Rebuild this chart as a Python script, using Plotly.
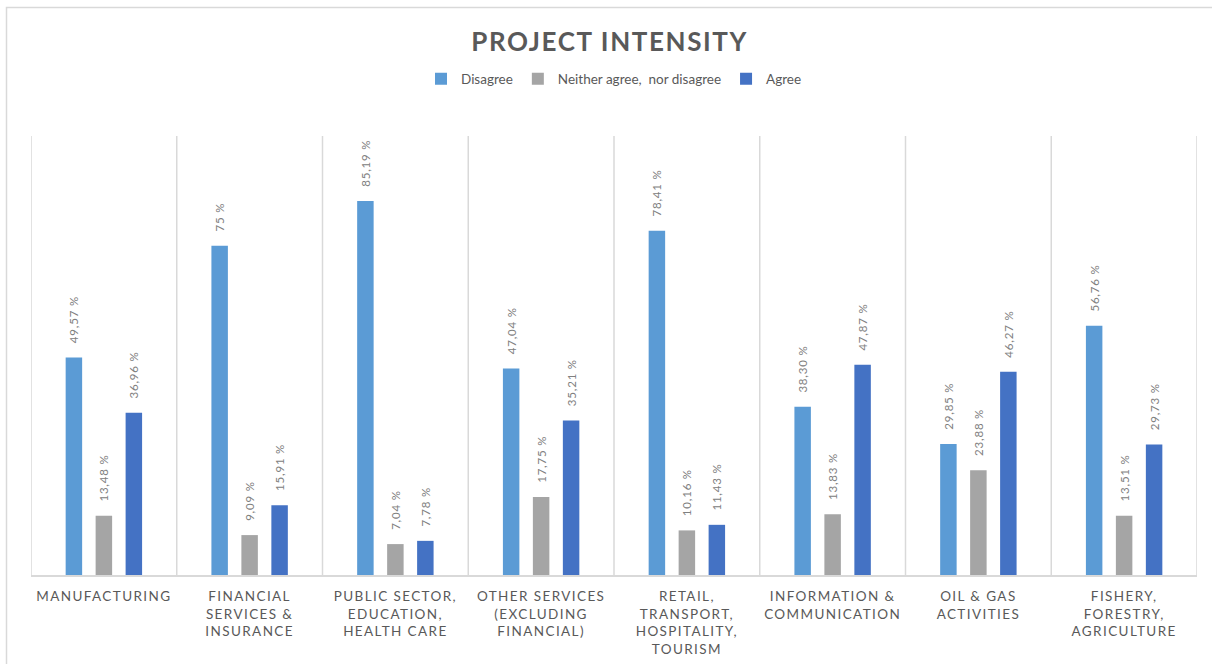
import plotly.graph_objects as go

# Sector categories (one line per <br>)
categories = [
    "MANUFACTURING",
    "FINANCIAL<br>SERVICES &<br>INSURANCE",
    "PUBLIC SECTOR,<br>EDUCATION,<br>HEALTH CARE",
    "OTHER SERVICES<br>(EXCLUDING<br>FINANCIAL)",
    "RETAIL,<br>TRANSPORT,<br>HOSPITALITY,<br>TOURISM",
    "INFORMATION &<br>COMMUNICATION",
    "OIL & GAS<br>ACTIVITIES",
    "FISHERY,<br>FORESTRY,<br>AGRICULTURE",
]

# Share of respondents (%) per answer
disagree = [49.57, 75.00, 85.19, 47.04, 78.41, 38.30, 29.85, 56.76]
neither = [13.48, 9.09, 7.04, 17.75, 10.16, 13.83, 23.88, 13.51]
agree = [36.96, 15.91, 7.78, 35.21, 11.43, 47.87, 46.27, 29.73]

series_names = ["Disagree", "Neither agree,  nor disagree", "Agree"]
series_colors = ["#5B9BD5", "#A5A5A5", "#4472C4"]

FONT = "Lato, 'Open Sans', sans-serif"
GRID = "#D9D9D9"
TEXT = "#595959"


def spaced(text, px):
    """Wrap every line of a label in a letter-spaced span."""
    lines = text.split("<br>")
    return "<br>".join(
        f"<span style='letter-spacing:{px}px'>{ln}</span>" for ln in lines
    )


def pct_label(v):
    num = f"{v:.0f}" if float(v).is_integer() else f"{v:.2f}".replace(".", ",")
    return spaced("\u00a0\u00a0\u00a0" + num + " %", 0.8)


tick_text = [spaced(c, 1.4) for c in categories]
x_idx = list(range(len(categories)))

fig = go.Figure()
for name, vals, col in zip(series_names, [disagree, neither, agree], series_colors):
    fig.add_trace(
        go.Bar(
            name=name,
            x=x_idx,
            y=vals,
            marker=dict(color=col, line=dict(width=0)),
            text=[pct_label(v) for v in vals],
            textposition="outside",
            textangle=-90,
            constraintext="none",
            cliponaxis=False,
            textfont=dict(family=FONT, size=11.5, color="#808080"),
            hoverinfo="skip",
        )
    )

shapes = []
# outer chart frame
shapes.append(
    dict(
        type="rect", xref="paper", yref="paper",
        x0=(6.5 - 31) / 1166, x1=1.3, y0=-1.0, y1=(575 - 7.5) / 439,
        line=dict(color=GRID, width=1.5), fillcolor="rgba(0,0,0,0)", layer="below",
    )
)
# vertical separators between categories
for i in range(len(categories) + 1):
    shapes.append(
        dict(
            type="line", xref="x", yref="paper",
            x0=i - 0.5, x1=i - 0.5, y0=0, y1=1,
            line=dict(color=GRID, width=1.5), layer="below",
        )
    )

fig.update_layout(
    width=1212,
    height=664,
    margin=dict(l=31, r=15, t=136, b=89, autoexpand=False),
    paper_bgcolor="white",
    plot_bgcolor="white",
    barmode="group",
    bargap=0.383,
    bargroupgap=0.45,
    font=dict(family=FONT, color=TEXT),
    title=dict(
        text=spaced("<b>PROJECT INTENSITY</b>", 1.6),
        x=0.503, xanchor="center",
        y=1 - 42 / 664, yanchor="middle", yref="container",
        font=dict(family=FONT, size=26, color=TEXT),
    ),
    legend=dict(
        orientation="h",
        x=0.5, xanchor="center",
        y=(575 - 79) / 439, yanchor="middle",
        font=dict(family=FONT, size=13.5, color=TEXT),
        itemwidth=30,
        traceorder="normal",
    ),
    xaxis=dict(
        range=[-0.5, len(categories) - 0.5],
        tickmode="array",
        tickvals=x_idx,
        ticktext=tick_text,
        ticks="",
        showline=True,
        linecolor=GRID,
        linewidth=2,
        showgrid=False,
        zeroline=False,
        automargin=False,
        tickfont=dict(family=FONT, size=13.5, color=TEXT),
        ticklabelstandoff=8,
        fixedrange=True,
    ),
    yaxis=dict(
        range=[0, 100],
        visible=False,
        showgrid=False,
        zeroline=False,
        automargin=False,
        fixedrange=True,
    ),
    shapes=shapes,
    showlegend=True,
)

fig.write_html("out.html")
